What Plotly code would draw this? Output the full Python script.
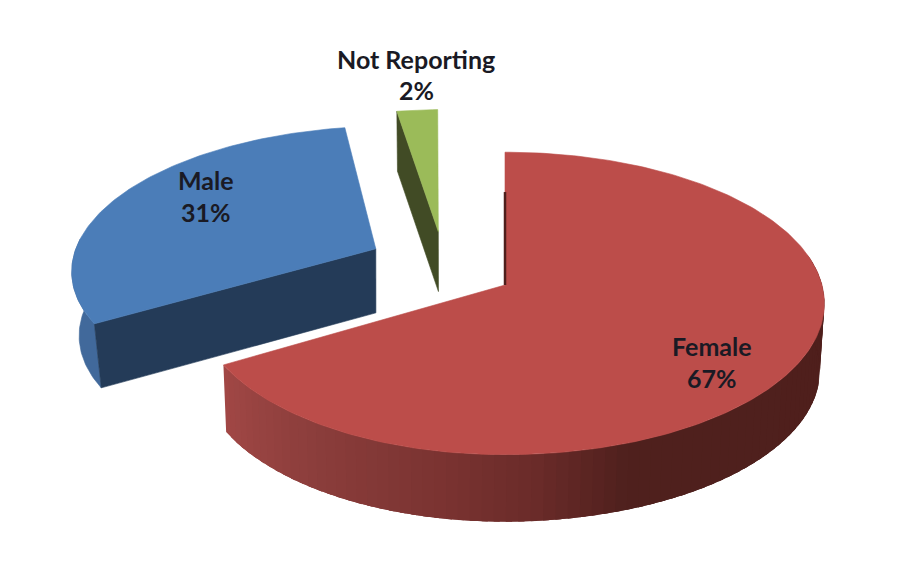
import math
import plotly.graph_objects as go

# Data
categories = ["Female", "Male", "Not Reporting"]
values = [66.6, 31.0, 2.4]

# Style
top_colors = ["#BC4D4A", "#4B7DB8", "#9BBB59"]
label_name_y = [346, 180, 59]
label_pct_y = [378, 212, 90]
label_x = [712, 206, 416]
explode = [(0.0, 0.0), (-0.42, 0.25), (-0.22, 0.375)]  # ground-plane offsets
radius = [1.0, 0.975, 1.0]
rotate = [0.0, -0.8, -1.6]
left_squeeze = [0.965, 1.0, 1.0]
CX, CY, RX, RY, PERSP = 505, 285, 317, 149, 0.122
DEPTH = [67, 64, 60]
VX = [450, 380, 450]
SHRINK = [0.012, 0.024, 0.012]
FEMALE_STOPS = [(241, "#A34846"), (215, "#8C3E3C"), (190, "#7A3331"),
                (175, "#6A2B29"), (160, "#4F201D"), (90, "#4F1F1C")]
MALE_WALL, MALE_CUT, NR_CUT = "#41699B", "#243B58", "#414B25"
PAGE_MARGIN = 8  # the page body offsets the plot


def project(i, X, D, low=False):
    s = 1 / (1 + PERSP * D)
    if X < 0:
        X *= left_squeeze[i]
    x = CX + RX * X * s
    y = CY - RY * D * s
    if low:
        x += (VX[i] - x) * SHRINK[i]
        y += DEPTH[i]
    return x, y


def apex(i, low=False):
    return project(i, explode[i][0], explode[i][1], low)


def rim(i, theta, low=False):
    t = math.radians(theta + rotate[i])
    return project(i, explode[i][0] + radius[i] * math.sin(t),
                   explode[i][1] + radius[i] * math.cos(t), low)


def frange(a, b, step=1.0):
    n = max(1, int(abs(b - a) / step))
    return [a + (b - a) * k / n for k in range(n + 1)]


def poly(points, color, stroke=True):
    xs = [p[0] for p in points] + [points[0][0]]
    ys = [p[1] for p in points] + [points[0][1]]
    return go.Scatter(x=xs, y=ys, mode="lines", fill="toself", fillcolor=color,
                      line=dict(color=color, width=0.6 if stroke else 0),
                      hoverinfo="skip", showlegend=False)


def lerp_color(theta):
    for (a, ca), (b, cb) in zip(FEMALE_STOPS, FEMALE_STOPS[1:]):
        if b <= theta <= a:
            f = (a - theta) / (a - b)
            rgb = [round(int(ca[k:k+2], 16) * (1 - f) + int(cb[k:k+2], 16) * f) for k in (1, 3, 5)]
            return "rgb(%d,%d,%d)" % tuple(rgb)
    return FEMALE_STOPS[-1][1]


# slice angles derived from the values, clockwise from 12 o'clock
total = sum(values)
spans = []
acc = 0
for v in values:
    spans.append((acc / total * 360, (acc + v) / total * 360))
    acc += v

fig = go.Figure()
female, male, nr = spans

# Not Reporting: cut face + top
fig.add_trace(poly([rim(2, nr[0]), apex(2), apex(2, True), rim(2, nr[0], True)], NR_CUT))
fig.add_trace(poly([apex(2)] + [rim(2, t) for t in frange(*nr)], top_colors[2]))

# Male: outer wall, cut face, top
fig.add_trace(poly([rim(1, t) for t in frange(male[0], 275)] +
                   [rim(1, t, True) for t in frange(275, male[0])], MALE_WALL))
fig.add_trace(poly([rim(1, male[0]), apex(1), apex(1, True), rim(1, male[0], True)], MALE_CUT))
fig.add_trace(poly([apex(1)] + [rim(1, t) for t in frange(*male)], top_colors[1]))

# Female: outer wall with shading (overlapping bands), then top
theta = female[1]
while theta > 80:
    nxt = max(theta - 2, 80)
    band = frange(theta, max(nxt - 3, 78), 1.0)
    fig.add_trace(poly([rim(0, t) for t in band] + [rim(0, t, True) for t in reversed(band)],
                       lerp_color((theta + nxt) / 2), stroke=False))
    theta = nxt
fig.add_trace(poly([apex(0)] + [rim(0, t) for t in frange(*female)], top_colors[0]))
edge = rim(0, female[0])
mid = (edge[0] + (apex(0)[0] - edge[0]) * 0.3, edge[1] + (apex(0)[1] - edge[1]) * 0.3)
fig.add_trace(go.Scatter(x=[mid[0], apex(0)[0]], y=[mid[1], apex(0)[1]], mode="lines",
                         line=dict(color="#4F1F1C", width=2.5), hoverinfo="skip", showlegend=False))

font = dict(family="Lato", size=25, color="#1A1A24", weight="bold")
for name, val, lx, y1, y2 in zip(categories, values, label_x, label_name_y, label_pct_y):
    fig.add_annotation(x=lx, y=y1, text=name, showarrow=False, font=font)
    fig.add_annotation(x=lx, y=y2, text=f"{round(val)}%", showarrow=False, font=font)

fig.update_layout(
    width=900, height=580, margin=dict(l=0, r=0, t=0, b=0),
    paper_bgcolor="white", plot_bgcolor="white", showlegend=False,
    xaxis=dict(range=[PAGE_MARGIN, 900 + PAGE_MARGIN], visible=False, fixedrange=True),
    yaxis=dict(range=[580 + PAGE_MARGIN, PAGE_MARGIN], visible=False, fixedrange=True),
)
fig.write_html("out.html")
